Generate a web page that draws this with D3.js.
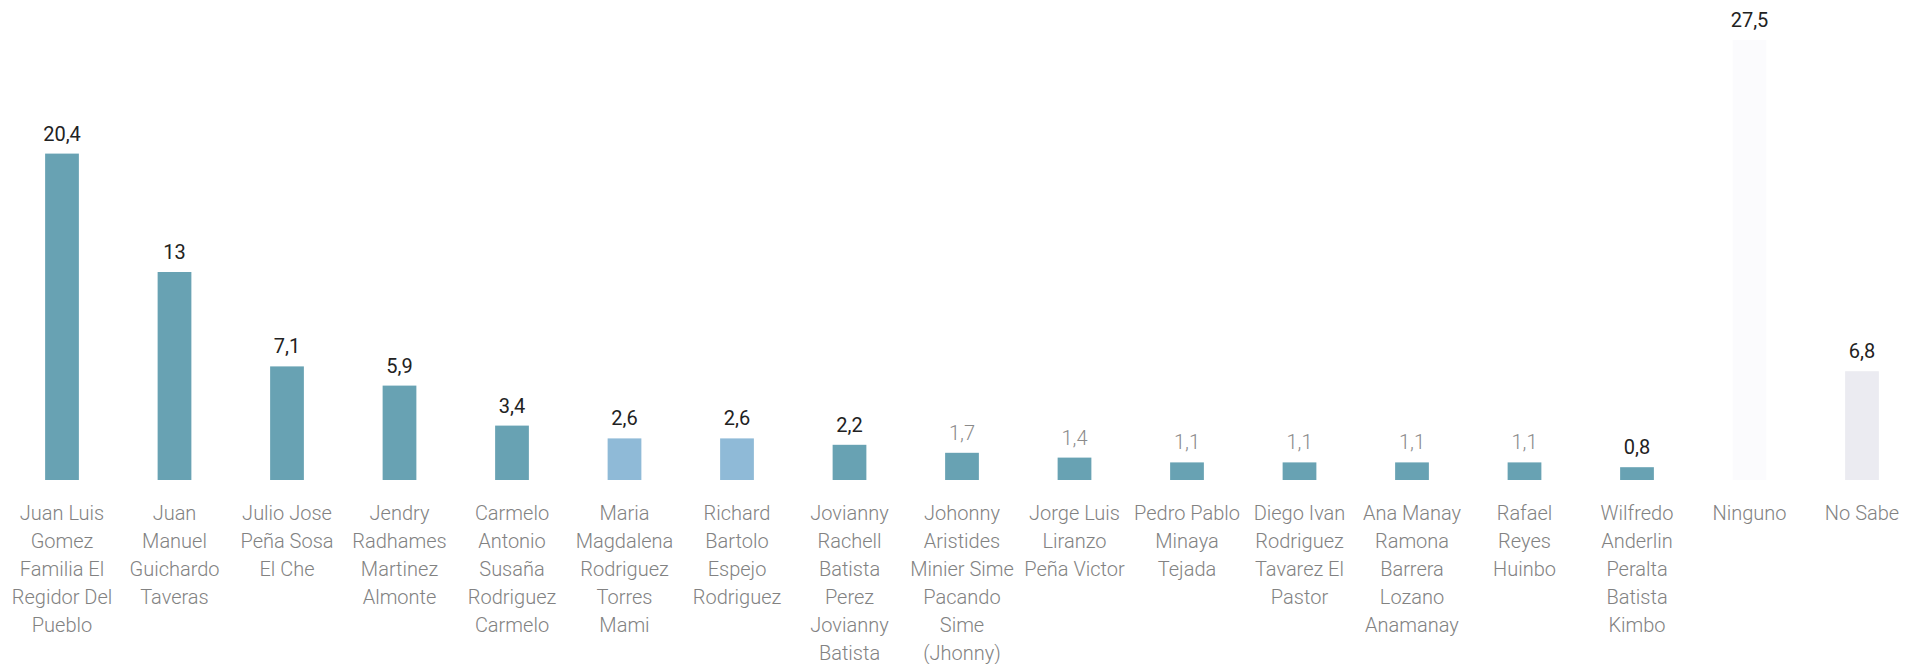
<!DOCTYPE html>
<html>
<head>
<meta charset="utf-8">
<script src="https://cdn.jsdelivr.net/npm/d3@7"></script>
<style>
  html, body { margin: 0; padding: 0; background: #ffffff; }
  svg { display: block; }
</style>
</head>
<body>
<svg id="chart" width="1919" height="664"></svg>
<script>
// ---- data ----
const categories = [
  "Juan Luis|Gomez|Familia El|Regidor Del|Pueblo",
  "Juan|Manuel|Guichardo|Taveras",
  "Julio Jose|Peña Sosa|El Che",
  "Jendry|Radhames|Martinez|Almonte",
  "Carmelo|Antonio|Susaña|Rodriguez|Carmelo",
  "Maria|Magdalena|Rodriguez|Torres|Mami",
  "Richard|Bartolo|Espejo|Rodriguez",
  "Jovianny|Rachell|Batista|Perez|Jovianny|Batista",
  "Johonny|Aristides|Minier Sime|Pacando|Sime|(Jhonny)",
  "Jorge Luis|Liranzo|Peña Victor",
  "Pedro Pablo|Minaya|Tejada",
  "Diego Ivan|Rodriguez|Tavarez El|Pastor",
  "Ana Manay|Ramona|Barrera|Lozano|Anamanay",
  "Rafael|Reyes|Huinbo",
  "Wilfredo|Anderlin|Peralta|Batista|Kimbo",
  "Ninguno",
  "No Sabe"
];
const values = [20.4, 13, 7.1, 5.9, 3.4, 2.6, 2.6, 2.2, 1.7, 1.4, 1.1, 1.1, 1.1, 1.1, 0.8, 27.5, 6.8];
const groups = ["a","a","a","a","a","b","b","a","a","a","a","a","a","a","a","none","unsure"];
const emphasis = [1,1,1,1,1,1,1,1,0,0,0,0,0,0,1,1,1];

// ---- styles ----
const barColors = { a: "#68a2b3", b: "#8fbad7", none: "#fbfbfd", unsure: "#ebebf1" };

const svg = d3.select("#chart");
const baseY = 480;

const x = d3.scaleBand()
  .domain(d3.range(categories.length))
  .range([5.75, 5.75 + 112.5 * categories.length])
  .paddingInner(0.7)
  .paddingOuter(0.35);

const y = d3.scaleLinear().domain([0, 27.5]).range([baseY, 40]);

const fmt = v => String(v).replace(".", ",");

const g = svg.append("g");

g.selectAll("rect.bar")
  .data(values)
  .join("rect")
  .attr("class", "bar")
  .attr("x", (d, i) => x(i))
  .attr("y", d => y(d))
  .attr("width", x.bandwidth())
  .attr("height", d => baseY - y(d))
  .attr("fill", (d, i) => barColors[groups[i]]);

g.selectAll("text.val")
  .data(values)
  .join("text")
  .attr("class", "val")
  .attr("x", (d, i) => x(i) + x.bandwidth() / 2)
  .attr("y", d => y(d) - 13)
  .attr("text-anchor", "middle")
  .style("font-family", "Roboto, 'Noto Sans', sans-serif")
  .style("font-size", "20px")
  .style("font-weight", (d, i) => emphasis[i] ? 400 : 300)
  .style("fill", (d, i) => emphasis[i] ? "#222222" : "#8a8a8a")
  .text(d => fmt(d));

const labels = g.selectAll("text.cat")
  .data(categories)
  .join("text")
  .attr("class", "cat")
  .attr("text-anchor", "middle")
  .style("font-family", "Roboto, 'Noto Sans', sans-serif")
  .style("font-size", "20px")
  .style("font-weight", 300)
  .style("fill", "#828282");

labels.each(function(d, i) {
  const cx = x(i) + x.bandwidth() / 2;
  d3.select(this).selectAll("tspan")
    .data(d.split("|"))
    .join("tspan")
    .attr("x", cx)
    .attr("y", (t, j) => 520 + j * 28)
    .text(t => t);
});
</script>
</body>
</html>
